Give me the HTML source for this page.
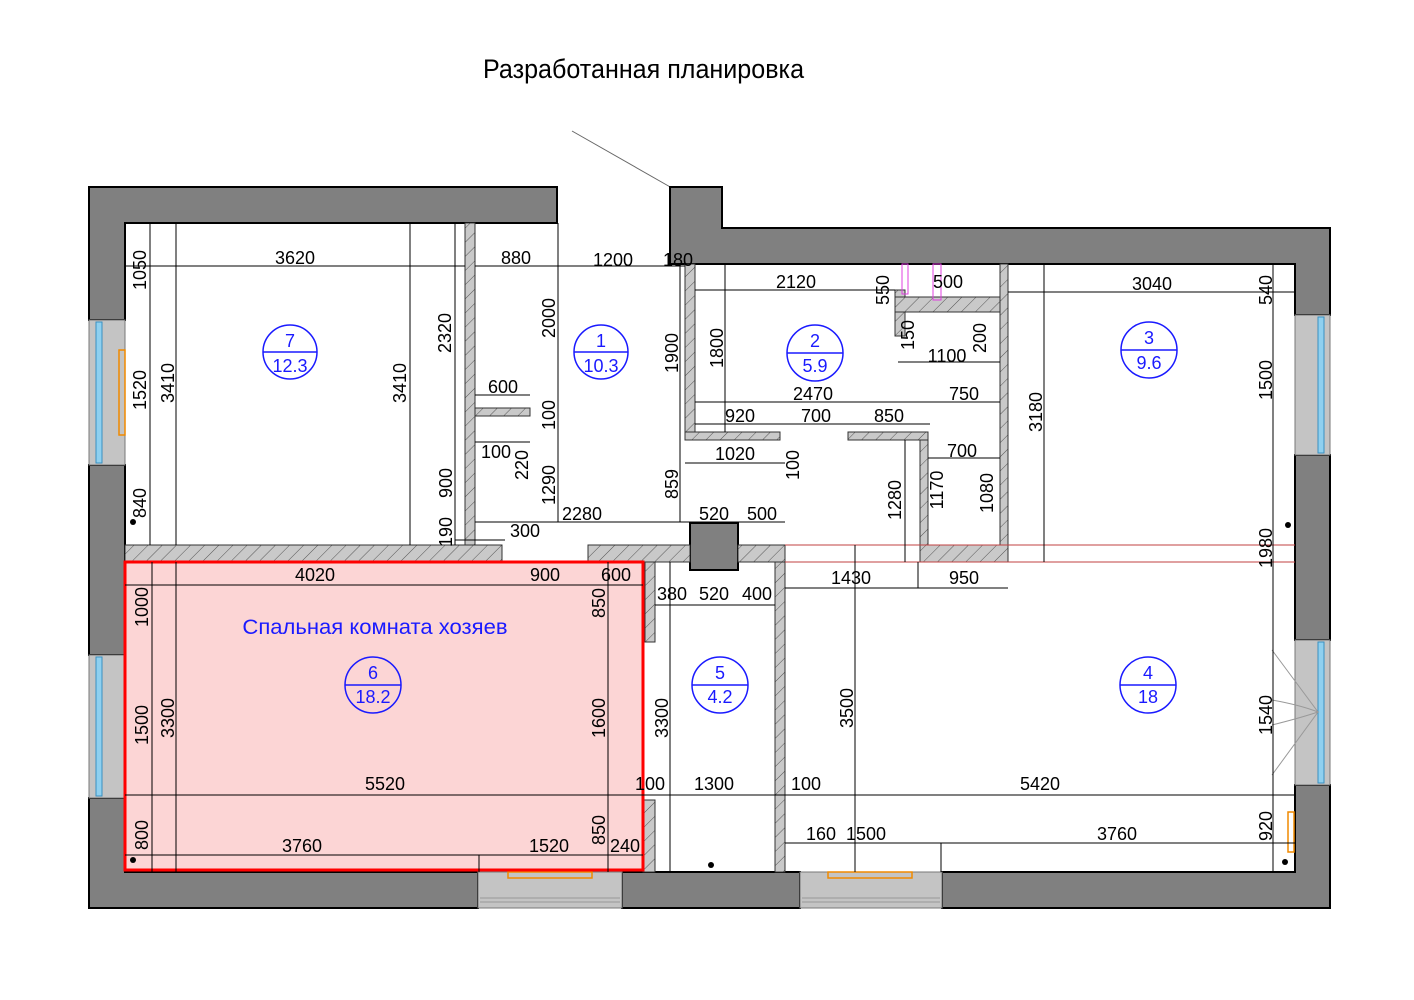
<!DOCTYPE html>
<html><head><meta charset="utf-8"><style>
html,body{margin:0;padding:0;background:#fff;}
svg{display:block;}
text{font-family:"Liberation Sans",sans-serif;font-size:18px;fill:#000;}
.b{fill:#1a1aff;}
</style></head><body>
<svg width="1414" height="1000" viewBox="0 0 1414 1000" xmlns="http://www.w3.org/2000/svg">
<defs>
<pattern id="h" width="10" height="10" patternUnits="userSpaceOnUse" patternTransform="rotate(45)">
<rect width="10" height="10" fill="#c9c9c9"/><line x1="0" y1="0" x2="0" y2="10" stroke="#555" stroke-width="1"/>
</pattern>
</defs>
<text x="483" y="78" style="font-size:27px" transform="translate(483,0) scale(0.93,1) translate(-483,0)">Разработанная планировка</text>
<line x1="572" y1="131" x2="672" y2="188" stroke="#666" stroke-width="1"/>

<rect x="125" y="562" width="518" height="308" fill="#fcd5d5"/>

<g fill="#808080" stroke="#000" stroke-width="2">
<path d="M89 187 H557 V223 H125 V320 H89 Z"/>
<path d="M670 187 H722 V228 H1330 V315 H1295 V264 H670 Z"/>
<rect x="89" y="465" width="36" height="190"/>
<path d="M89 798 H125 V872 H478 V908 H89 Z"/>
<rect x="622" y="872" width="178" height="36"/>
<path d="M942 872 H1295 V785 H1330 V908 H942 Z"/>
<rect x="1295" y="455" width="35" height="185"/>
<rect x="690" y="523" width="48" height="47"/>
</g>
<g fill="#c4c4c4" stroke="#777" stroke-width="1">
<rect x="89" y="320" width="36" height="145"/>
<rect x="89" y="655" width="36" height="143"/>
<rect x="1295" y="315" width="35" height="140"/>
<rect x="1295" y="640" width="35" height="145"/>
<rect x="478" y="872" width="144" height="36"/>
<rect x="800" y="872" width="142" height="36"/>
</g>
<g fill="#8fd0ef" stroke="#3a8fc0" stroke-width="1">
<rect x="96" y="322" width="6" height="141"/>
<rect x="96" y="657" width="6" height="139"/>
<rect x="1318" y="317" width="6" height="136"/>
<rect x="1318" y="642" width="6" height="141"/>
</g>
<g stroke="#999" fill="none">
<line x1="480" y1="898" x2="620" y2="898"/><line x1="480" y1="902" x2="620" y2="902"/>
<line x1="802" y1="898" x2="940" y2="898"/><line x1="802" y1="902" x2="940" y2="902"/>
<path d="M1272 650 L1318 712 L1272 775 M1272 700 Q1300 705 1318 712 Q1300 718 1272 725"/>
</g>
<g fill="none" stroke="#f08a00" stroke-width="1.5">
<rect x="508" y="872" width="84" height="6"/><rect x="828" y="872" width="84" height="6"/>
<rect x="119" y="350" width="6" height="85"/><rect x="1288" y="812" width="6" height="40"/>
</g>

<g fill="url(#h)" stroke="#333" stroke-width="1">
<rect x="465" y="223" width="10" height="322"/>
<rect x="125" y="545" width="377" height="17"/>
<rect x="588" y="545" width="102" height="17"/>
<rect x="738" y="545" width="47" height="17"/>
<rect x="645" y="562" width="10" height="80"/>
<rect x="775" y="562" width="10" height="310"/>
<rect x="643" y="800" width="12" height="72"/>
<rect x="685" y="264" width="10" height="176"/>
<rect x="685" y="432" width="95" height="8"/>
<rect x="475" y="408" width="55" height="8"/>
<rect x="1000" y="264" width="8" height="298"/>
<rect x="920" y="440" width="8" height="122"/>
<rect x="920" y="545" width="88" height="17"/>
<rect x="895" y="290" width="10" height="46"/>
<rect x="895" y="297" width="105" height="15"/>
<rect x="848" y="432" width="80" height="8"/>
</g>
<rect x="125" y="562" width="518" height="308" fill="none" stroke="#f00" stroke-width="3"/>
<g stroke="#c04040" stroke-width="1"><line x1="785" y1="545" x2="1295" y2="545"/><line x1="785" y1="562" x2="1295" y2="562"/></g>
<g stroke="#e040e0" fill="none"><rect x="902" y="264" width="6" height="30"/><rect x="933" y="264" width="8" height="36"/></g>

<g stroke="#000" stroke-width="1" fill="none">
<line x1="125" y1="266" x2="465" y2="266"/><line x1="475" y1="266" x2="685" y2="266"/>
<line x1="695" y1="290" x2="895" y2="290"/><line x1="1008" y1="292" x2="1295" y2="292"/>
<line x1="150" y1="223" x2="150" y2="545"/><line x1="176" y1="223" x2="176" y2="545"/><line x1="410" y1="223" x2="410" y2="545"/>
<line x1="455" y1="223" x2="455" y2="545"/><line x1="558" y1="223" x2="558" y2="522"/><line x1="680" y1="264" x2="680" y2="522"/>
<line x1="725" y1="264" x2="725" y2="432"/><line x1="695" y1="402" x2="1000" y2="402"/><line x1="695" y1="424" x2="930" y2="424"/>
<line x1="685" y1="463" x2="785" y2="463"/><line x1="898" y1="362" x2="1000" y2="362"/><line x1="928" y1="458" x2="1000" y2="458"/>
<line x1="1044" y1="264" x2="1044" y2="562"/><line x1="1273" y1="264" x2="1273" y2="872"/>
<line x1="475" y1="395" x2="530" y2="395"/><line x1="475" y1="442" x2="530" y2="442"/>
<line x1="475" y1="522" x2="785" y2="522"/><line x1="455" y1="540" x2="505" y2="540"/>
<line x1="125" y1="585" x2="643" y2="585"/><line x1="655" y1="605" x2="775" y2="605"/><line x1="785" y1="588" x2="1008" y2="588"/>
<line x1="152" y1="562" x2="152" y2="872"/><line x1="176" y1="562" x2="176" y2="872"/><line x1="608" y1="562" x2="608" y2="872"/>
<line x1="670" y1="562" x2="670" y2="872"/><line x1="855" y1="545" x2="855" y2="872"/><line x1="905" y1="440" x2="905" y2="562"/><line x1="918" y1="562" x2="918" y2="588"/>
<line x1="125" y1="795" x2="1295" y2="795"/><line x1="125" y1="855" x2="643" y2="855"/><line x1="785" y1="843" x2="1295" y2="843"/>
<line x1="479" y1="855" x2="479" y2="872"/><line x1="941" y1="843" x2="941" y2="872"/>
</g>

<g fill="none" stroke="#1a1aff" stroke-width="1.5">
<circle cx="290" cy="352" r="27"/><line x1="263" y1="352" x2="317" y2="352"/>
<circle cx="601" cy="352" r="27"/><line x1="574" y1="352" x2="628" y2="352"/>
<circle cx="815" cy="353" r="28"/><line x1="787" y1="353" x2="843" y2="353"/>
<circle cx="1149" cy="350" r="28"/><line x1="1121" y1="350" x2="1177" y2="350"/>
<circle cx="1148" cy="685" r="28"/><line x1="1120" y1="685" x2="1176" y2="685"/>
<circle cx="720" cy="685" r="28"/><line x1="692" y1="685" x2="748" y2="685"/>
<circle cx="373" cy="685" r="28"/><line x1="345" y1="685" x2="401" y2="685"/>
</g>
<g text-anchor="middle">
<text class="b" x="290" y="347">7</text><text class="b" x="290" y="372">12.3</text>
<text class="b" x="601" y="347">1</text><text class="b" x="601" y="372">10.3</text>
<text class="b" x="815" y="347">2</text><text class="b" x="815" y="372">5.9</text>
<text class="b" x="1149" y="344">3</text><text class="b" x="1149" y="369">9.6</text>
<text class="b" x="1148" y="679">4</text><text class="b" x="1148" y="703">18</text>
<text class="b" x="720" y="679">5</text><text class="b" x="720" y="703">4.2</text>
<text class="b" x="373" y="679">6</text><text class="b" x="373" y="703">18.2</text>
</g>
<text class="b" x="375" y="634" text-anchor="middle" style="font-size:21px" transform="translate(375,0) scale(1.05,1) translate(-375,0)">Спальная комната хозяев</text>

<g text-anchor="middle">
<text x="295" y="264">3620</text><text x="516" y="264">880</text><text x="613" y="266">1200</text><text x="678" y="266">180</text>
<text x="796" y="288">2120</text><text x="948" y="288">500</text><text x="1152" y="290">3040</text>
<text x="947" y="362">1100</text><text x="813" y="400">2470</text><text x="964" y="400">750</text>
<text x="740" y="422">920</text><text x="816" y="422">700</text><text x="889" y="422">850</text>
<text x="503" y="393">600</text><text x="496" y="458">100</text><text x="735" y="460">1020</text><text x="962" y="457">700</text>
<text x="525" y="537">300</text><text x="582" y="520">2280</text><text x="714" y="520">520</text><text x="762" y="520">500</text>
<text x="315" y="581">4020</text><text x="545" y="581">900</text><text x="616" y="581">600</text>
<text x="672" y="600">380</text><text x="714" y="600">520</text><text x="757" y="600">400</text>
<text x="851" y="584">1430</text><text x="964" y="584">950</text>
<text x="385" y="790">5520</text><text x="650" y="790">100</text><text x="714" y="790">1300</text><text x="806" y="790">100</text><text x="1040" y="790">5420</text>
<text x="302" y="852">3760</text><text x="549" y="852">1520</text><text x="625" y="852">240</text>
<text x="821" y="840">160</text><text x="866" y="840">1500</text><text x="1117" y="840">3760</text>
</g>
<g text-anchor="middle">
<text transform="translate(146,270) rotate(-90)">1050</text>
<text transform="translate(146,390) rotate(-90)">1520</text>
<text transform="translate(174,383) rotate(-90)">3410</text>
<text transform="translate(406,383) rotate(-90)">3410</text>
<text transform="translate(451,333) rotate(-90)">2320</text>
<text transform="translate(555,318) rotate(-90)">2000</text>
<text transform="translate(678,353) rotate(-90)">1900</text>
<text transform="translate(723,348) rotate(-90)">1800</text>
<text transform="translate(889,290) rotate(-90)">550</text>
<text transform="translate(914,335) rotate(-90)">150</text>
<text transform="translate(986,338) rotate(-90)">200</text>
<text transform="translate(555,415) rotate(-90)">100</text>
<text transform="translate(528,465) rotate(-90)">220</text>
<text transform="translate(555,485) rotate(-90)">1290</text>
<text transform="translate(452,483) rotate(-90)">900</text>
<text transform="translate(799,465) rotate(-90)">100</text>
<text transform="translate(678,484) rotate(-90)">859</text>
<text transform="translate(901,500) rotate(-90)">1280</text>
<text transform="translate(943,490) rotate(-90)">1170</text>
<text transform="translate(993,493) rotate(-90)">1080</text>
<text transform="translate(1042,412) rotate(-90)">3180</text>
<text transform="translate(1272,290) rotate(-90)">540</text>
<text transform="translate(1272,380) rotate(-90)">1500</text>
<text transform="translate(146,503) rotate(-90)">840</text>
<text transform="translate(452,532) rotate(-90)">190</text>
<text transform="translate(1272,548) rotate(-90)">1980</text>
<text transform="translate(148,607) rotate(-90)">1000</text>
<text transform="translate(605,603) rotate(-90)">850</text>
<text transform="translate(148,725) rotate(-90)">1500</text>
<text transform="translate(174,718) rotate(-90)">3300</text>
<text transform="translate(605,718) rotate(-90)">1600</text>
<text transform="translate(668,718) rotate(-90)">3300</text>
<text transform="translate(853,708) rotate(-90)">3500</text>
<text transform="translate(1272,715) rotate(-90)">1540</text>
<text transform="translate(148,835) rotate(-90)">800</text>
<text transform="translate(605,830) rotate(-90)">850</text>
<text transform="translate(1272,826) rotate(-90)">920</text>
</g>
<g fill="#000"><circle cx="133" cy="522" r="3"/><circle cx="133" cy="860" r="3"/><circle cx="711" cy="865" r="3"/><circle cx="1288" cy="525" r="3"/><circle cx="1285" cy="862" r="3"/></g>
</svg>
</body></html>
